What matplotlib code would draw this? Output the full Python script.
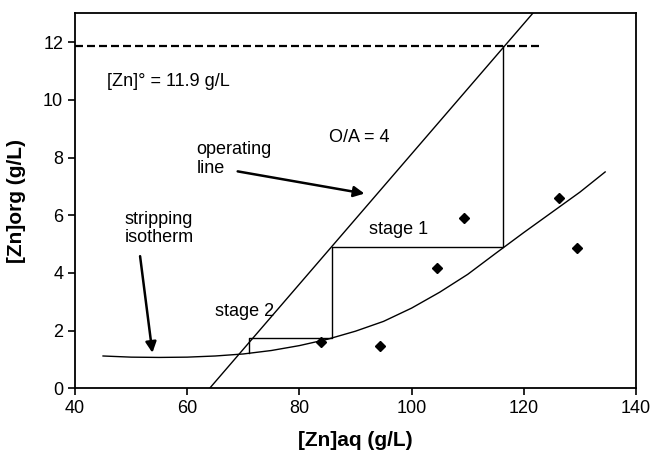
import matplotlib
matplotlib.use("Agg")
import matplotlib.pyplot as plt

plt.rcParams['font.family'] = ['Liberation Sans', 'DejaVu Sans']

# Experimental data points (diamonds)
exp_aq = [83.9, 94.3, 104.5, 109.3, 126.2, 129.5]
exp_org = [1.61, 1.46, 4.16, 5.92, 6.61, 4.88]

# Stripping isotherm (fitted curve)
iso_aq = [45, 50, 55, 60, 65, 70, 75, 80, 85, 90, 95, 100, 105, 110, 115, 120, 125, 130, 134.5]
iso_org = [1.12, 1.08, 1.07, 1.08, 1.12, 1.19, 1.31, 1.48, 1.70, 1.98, 2.32, 2.78, 3.33, 3.95,
           4.68, 5.40, 6.10, 6.80, 7.50]

# Operating line end points
op_aq = [64.0, 121.6]
op_org = [0.0, 13.0]

# Initial organic concentration
zn0 = 11.88
zn0_aq = [40, 123]

# McCabe-Thiele staircase
stairs_aq = [116.3, 116.3, 85.9, 85.9, 71.1, 71.1]
stairs_org = [zn0, 4.90, 4.90, 1.73, 1.73, 1.21]

fig = plt.figure(figsize=(6.55, 4.55), dpi=100)
ax = fig.add_axes([0.1145, 0.1466, 0.8565, 0.8242])

ax.plot(zn0_aq, [zn0, zn0], color='black', lw=1.6, ls=(0, (3.6, 1.8)))
ax.plot(op_aq, op_org, color='black', lw=1.0)
ax.plot(iso_aq, iso_org, color='black', lw=1.0)
ax.plot(stairs_aq, stairs_org, color='black', lw=1.0)
ax.plot(exp_aq, exp_org, ls='none', marker='D', ms=5.5, color='black')

fs = 13
ax.text(45.7, 10.64, '[Zn]° = 11.9 g/L', fontsize=fs, va='center', ha='left')
ax.text(85.3, 8.7, 'O/A = 4', fontsize=fs, va='center', ha='left')
ax.text(61.7, 7.95, 'operating\nline', fontsize=fs, va='center', ha='left', linespacing=1.1)
ax.text(48.9, 5.53, 'stripping\nisotherm', fontsize=fs, va='center', ha='left', linespacing=1.1)
ax.text(92.4, 5.5, 'stage 1', fontsize=fs, va='center', ha='left')
ax.text(64.9, 2.65, 'stage 2', fontsize=fs, va='center', ha='left')

arrow = dict(arrowstyle='-|>', lw=1.8, color='black', mutation_scale=16, shrinkA=0, shrinkB=0)
ax.annotate('', xy=(91.6, 6.75), xytext=(69.0, 7.52), arrowprops=arrow)
ax.annotate('', xy=(53.8, 1.23), xytext=(51.6, 4.58), arrowprops=arrow)

ax.set_xlim(40, 140)
ax.set_ylim(0, 13)
ax.set_xticks([40, 60, 80, 100, 120, 140])
ax.set_yticks([0, 2, 4, 6, 8, 10, 12])
ax.tick_params(direction='out', length=5, width=1.2, labelsize=13, colors='black')
for s in ax.spines.values():
    s.set_linewidth(1.3)

ax.set_xlabel('[Zn]aq (g/L)', fontsize=15, fontweight='bold', labelpad=10)
ax.set_ylabel('[Zn]org (g/L)', fontsize=15, fontweight='bold', labelpad=12)

fig.savefig('out.png', dpi=100)
